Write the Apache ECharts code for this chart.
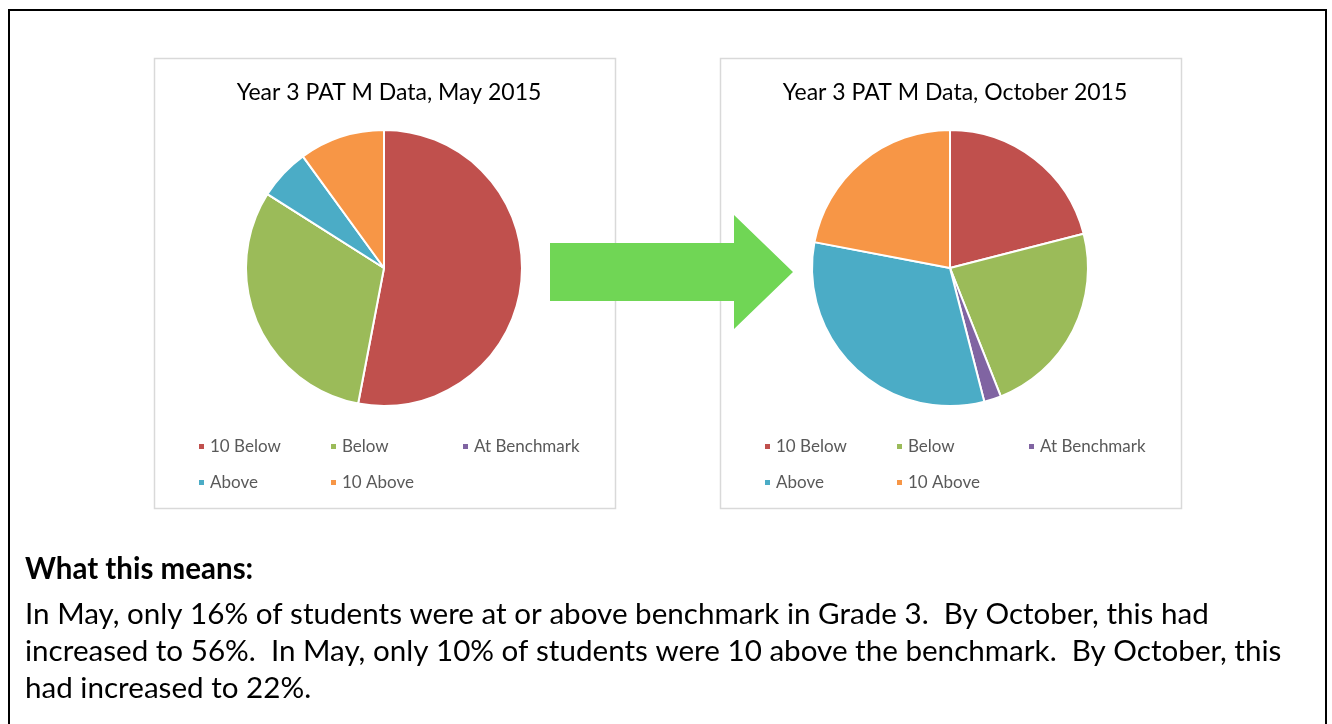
<!DOCTYPE html>
<html>
<head>
<meta charset="utf-8">
<script src="https://cdn.jsdelivr.net/npm/echarts@6/dist/echarts.min.js"></script>
<style>
html, body { margin: 0; padding: 0; background: #fff; }
#main { width: 1332px; height: 724px; }
</style>
</head>
<body>
<div id="main"></div>
<script>
// pie data (percent of students)
const categories = ['10 Below', 'Below', 'At Benchmark', 'Above', '10 Above'];
const mayValues = [53, 31, 0, 6, 10];
const octValues = [21, 23, 2, 32, 22];
const chartTitles = ['Year 3 PAT M Data, May 2015', 'Year 3 PAT M Data, October 2015'];
const noteHeading = 'What this means:';
const noteLines = [
  'In May, only 16% of students were at or above benchmark in Grade 3.  By October, this had',
  'increased to 56%.  In May, only 10% of students were 10 above the benchmark.  By October, this',
  'had increased to 22%.'
];

const colors = ['#C0504D', '#9BBB59', '#8064A2', '#4BACC6', '#F79646'];
const font = 'Lato, "Open Sans", sans-serif';

let myChart = echarts.init(document.getElementById('main'));

function pieSeries(name, values, cx) {
  return {
    name: name,
    type: 'pie',
    center: [cx, 268],
    radius: 138,
    startAngle: 90,
    clockwise: true,
    label: { show: false },
    labelLine: { show: false },
    emphasis: { disabled: true },
    itemStyle: { borderColor: '#fff', borderWidth: 2 },
    data: categories.map((c, i) => ({ name: c, value: values[i] }))
  };
}

function legendAt(left) {
  return {
    left: left,
    top: 434,
    width: 390,
    padding: 0,
    icon: 'rect',
    itemWidth: 7,
    itemHeight: 7,
    itemGap: 11,
    selectedMode: false,
    data: categories,
    textStyle: { fontFamily: font, fontSize: 17, color: '#595959', width: 108, lineHeight: 25 }
  };
}

function titleAt(text, cx) {
  return {
    text: text, left: cx, top: 76, textAlign: 'center',
    textStyle: { fontFamily: font, fontSize: 23, fontWeight: 'normal', color: '#000' }
  };
}

let graphics = [
  { type: 'rect', z: 0, shape: { x: 9, y: 10, width: 1317, height: 740 }, style: { fill: null, stroke: '#000', lineWidth: 2 } },
  { type: 'rect', z: 0, shape: { x: 154.5, y: 58.5, width: 461, height: 450 }, style: { fill: null, stroke: '#d9d9d9', lineWidth: 1.5 } },
  { type: 'rect', z: 0, shape: { x: 720.5, y: 58.5, width: 461, height: 450 }, style: { fill: null, stroke: '#d9d9d9', lineWidth: 1.5 } },
  { type: 'polygon', z: 5, shape: { points: [[550, 243], [734, 243], [734, 215], [793, 272], [734, 329], [734, 301], [550, 301]] }, style: { fill: '#70D655' } },
  { type: 'text', z: 5, style: { x: 25, y: 569, text: noteHeading, font: 'bold 29.5px ' + font, fill: '#000', verticalAlign: 'middle' } }
];
noteLines.forEach((line, i) => {
  graphics.push({ type: 'text', z: 5, style: { x: 25, y: 614 + i * 37, text: line, font: '29.6px ' + font, fill: '#000', verticalAlign: 'middle' } });
});

let option = {
  animation: false,
  backgroundColor: '#fff',
  color: colors,
  title: [titleAt(chartTitles[0], 384), titleAt(chartTitles[1], 950)],
  tooltip: { show: false },
  legend: [legendAt(197), legendAt(763)],
  series: [
    pieSeries('May 2015', mayValues, 384),
    pieSeries('October 2015', octValues, 950)
  ],
  graphic: graphics
};
myChart.setOption(option);
</script>
</body>
</html>
